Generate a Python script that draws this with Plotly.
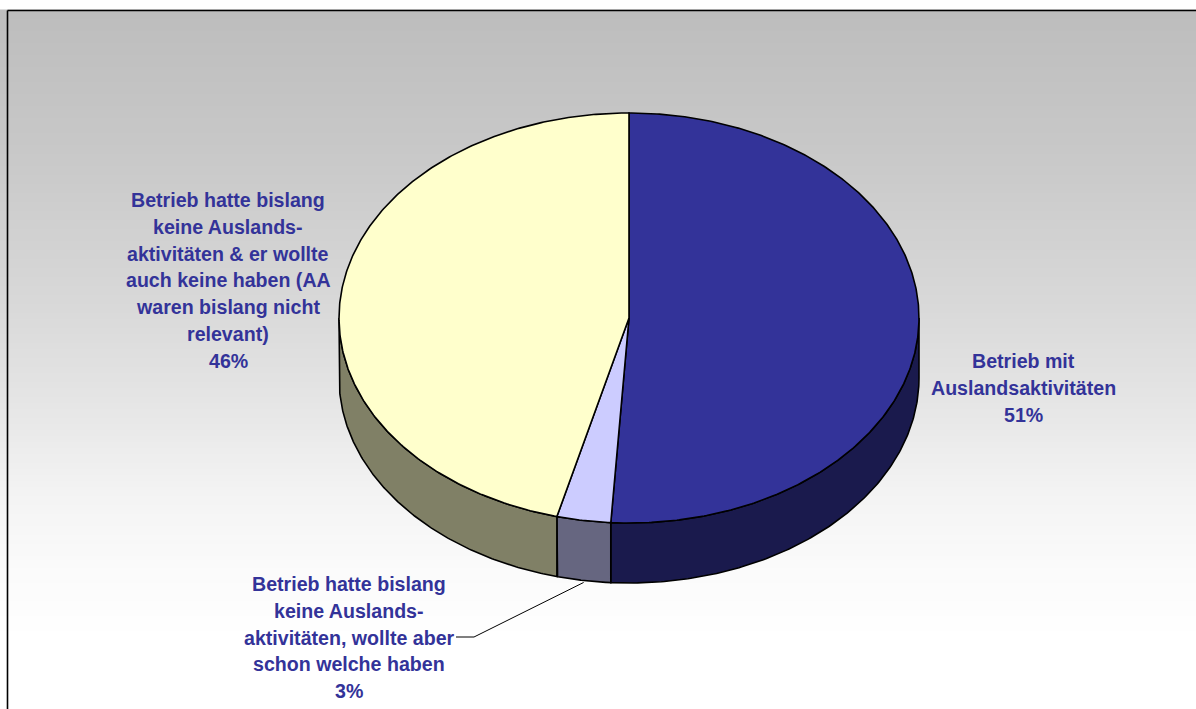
import numpy as np
import plotly.graph_objects as go

# Survey shares, clockwise from twelve o'clock
categories = ["Betrieb mit Auslandsaktivitäten",
              "Betrieb hatte bislang keine Auslandsaktivitäten, wollte aber schon welche haben",
              "Betrieb hatte bislang keine Auslandsaktivitäten & er wollte auch keine haben"]
shares = [51, 3, 46]
label_lines = [
    ["Betrieb mit", "Auslandsaktivitäten"],
    ["Betrieb hatte bislang", "keine Auslands-", "aktivitäten, wollte aber", "schon welche haben"],
    ["Betrieb hatte bislang", "keine Auslands-", "aktivitäten & er wollte", "auch keine haben (AA",
     "waren bislang nicht", "relevant)"],
]
top_colors = ["#333399", "#CCCCFF", "#FFFFCC"]
wall_colors = ["#1A1A4D", "#666680", "#808066"]
label_centers = [(1023, 361), (349, 584), (228, 200)]

# Backdrop gradient stops (page y, grey level)
grad_y = [11, 150, 300, 400, 490, 560, 640, 709]
grad_grey = [189, 200, 216, 229, 243, 250, 255, 255]

# Disc geometry in page pixels
CX, CY, RX, RY, DEPTH = 629, 318, 290, 205, 60
TEXT_COLOR = "#333399"
LINE_STEP = 26.8


def rim(theta_deg):
    t = np.radians(theta_deg)
    return CX + RX * np.sin(t), CY - RY * np.cos(t)


bounds = np.concatenate([[0], np.cumsum(shares) / sum(shares) * 360])
fig = go.Figure()

rows = np.arange(11, 710, 3)
fig.add_trace(go.Heatmap(
    x=[8, 1196], y=rows,
    z=[[g, g] for g in np.interp(rows, grad_y, grad_grey)],
    zmin=0, zmax=255, colorscale=[[0, "#000000"], [1, "#FFFFFF"]],
    showscale=False, hoverinfo="skip"))

# Side walls: only the part of each slice facing the viewer (90° to 270°)
for start, end, color, name in zip(bounds[:-1], bounds[1:], wall_colors, categories):
    a, b = max(start, 90), min(end, 270)
    if a >= b:
        continue
    th = np.linspace(a, b, 160)
    x, y = rim(th)
    fig.add_trace(go.Scatter(
        x=np.concatenate([x, x[::-1], x[:1]]),
        y=np.concatenate([y, y[::-1] + DEPTH, y[:1]]),
        mode="lines", fill="toself", fillcolor=color,
        line=dict(color="black", width=1.6), name=name, hoverinfo="skip"))

# Top faces
for start, end, color, name, share in zip(bounds[:-1], bounds[1:], top_colors, categories, shares):
    th = np.linspace(start, end, max(int(end - start) * 2, 12))
    x, y = rim(th)
    fig.add_trace(go.Scatter(
        x=np.concatenate([[CX], x, [CX]]), y=np.concatenate([[CY], y, [CY]]),
        mode="lines", fill="toself", fillcolor=color,
        line=dict(color="black", width=1.6), name=name,
        hovertemplate=f"{share}%<extra>{name}</extra>"))

# Leader from the small slice's wall to its label
mid_x, mid_y = rim((bounds[1] + bounds[2]) / 2)
fig.add_trace(go.Scatter(
    x=[mid_x, 474, 456], y=[mid_y + DEPTH + 2, 637, 637], mode="lines",
    line=dict(color="black", width=1), hoverinfo="skip"))

# Labels, one annotation per line so the leading stays fixed
annotations = []
for lines, share, (cx, cy) in zip(label_lines, shares, label_centers):
    for i, text in enumerate(lines + [f"{share}%"]):
        annotations.append(dict(
            x=cx, y=cy + i * LINE_STEP, text=f"<b>{text}</b>", showarrow=False,
            xanchor="center", yanchor="middle",
            font=dict(family="Liberation Sans", size=19.6, color=TEXT_COLOR)))

# Chart frame: only the top and left edges fall inside the page
shapes = [
    dict(type="line", x0=7.5, x1=1196, y0=10.5, y1=10.5, line=dict(color="black", width=1.6)),
    dict(type="line", x0=7.5, x1=7.5, y0=10.5, y1=709, line=dict(color="black", width=1.6)),
]

fig.update_layout(
    width=1196, height=709, margin=dict(l=0, r=0, t=0, b=0),
    paper_bgcolor="white", plot_bgcolor="white", showlegend=False,
    xaxis=dict(range=[0, 1196], visible=False, fixedrange=True),
    yaxis=dict(range=[709, 0], visible=False, fixedrange=True),
    annotations=annotations, shapes=shapes)

fig.write_html("out.html", config=dict(displayModeBar=False))
